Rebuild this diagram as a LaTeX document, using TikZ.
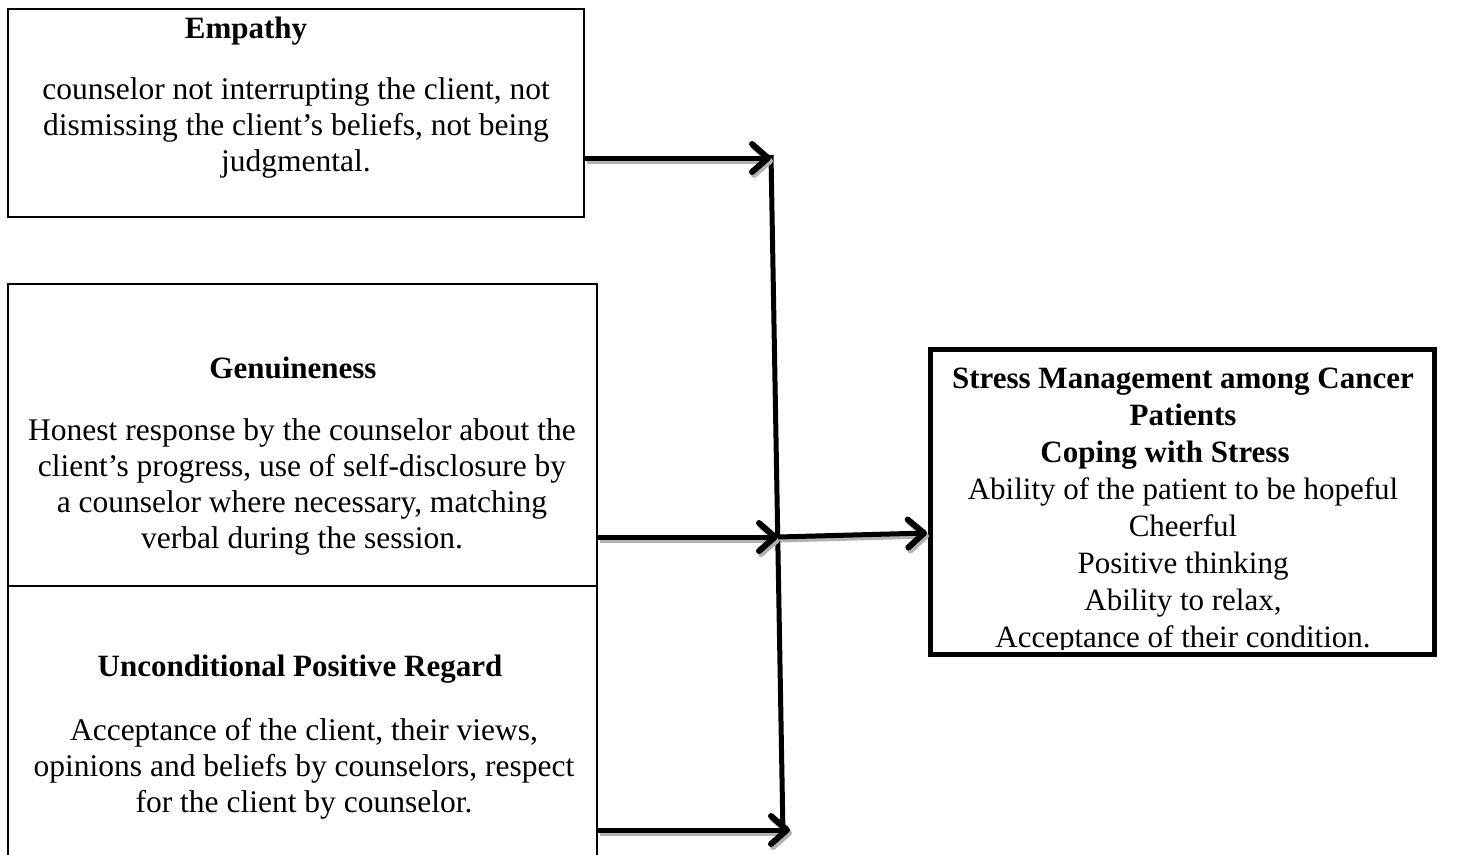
\documentclass[tikz,border=0pt]{standalone}
\usepackage{fontspec}
\setmainfont{Liberation Serif}
\usetikzlibrary{arrows.meta}
\begin{document}
\begin{tikzpicture}[x=1pt,y=-1pt,
  txt/.style={align=center,font=\fontsize{31.5}{36}\selectfont,inner sep=0pt},
  stxt/.style={align=center,font=\fontsize{31}{37}\selectfont,inner sep=0pt},
  ttl/.style={font=\fontsize{31}{36}\selectfont\bfseries,inner sep=0pt},
  thinbox/.style={draw=black,line width=2pt,inner sep=0pt},
  thickbox/.style={draw=black,line width=5pt,inner sep=0pt},
  conn/.style={line width=5pt,-{Straight Barb[length=16pt,width=28pt,line width=6pt,round]},
    preaction={draw=gray!60,line width=5pt,transform canvas={shift={(2pt,-3pt)}}}}]
\useasboundingbox (0,0) rectangle (1464,854);
\clip (0,0) rectangle (1464,854);
\fill[white] (0,0) rectangle (1464,854);
% boxes
\node[thinbox,minimum width=576pt,minimum height=208pt] (e) at (296,113) {};
\node[thinbox,minimum width=589pt,minimum height=302pt] (g) at (302.5,435) {};
\node[thinbox,minimum width=589pt,minimum height=280pt] (u) at (302.5,726) {};
\node[thickbox,minimum width=504pt,minimum height=305pt] (s) at (1182.5,502) {};
% texts
\node[ttl] (et) at (246,31) {Empathy};
\node[txt] (eb) at (296,128) {counselor not interrupting the client, not\\dismissing the client’s beliefs, not being\\judgmental.};
\node[ttl] (gt) at (293,368) {Genuineness};
\node[txt] (gb) at (302,487) {Honest response by the counselor about the\\client’s progress, use of self-disclosure by\\a counselor where necessary, matching\\verbal during the session.};
\node[ttl] (ut) at (300,669) {Unconditional Positive Regard};
\node[txt] (ub) at (304,769) {Acceptance of the client, their views,\\opinions and beliefs by counselors, respect\\for the client by counselor.};
\begin{scope}
\clip ([shift={(4,4)}]s.north west) rectangle ([shift={(-4,-8)}]s.south east);
\node[stxt] (sb) at (1183,511) {\textbf{Stress Management among Cancer}\\\textbf{Patients}\\\hspace*{-36pt}\textbf{Coping with Stress}\\Ability of the patient to be hopeful\\Cheerful\\Positive thinking\\Ability to relax,\\Acceptance of their condition.};
\end{scope}
% connectors
\coordinate (j1) at (771,158);
\coordinate (j2) at (778,537);
\coordinate (j3) at (790,830);
\coordinate (vt) at (771,155);
\coordinate (vb) at (783,835);
\coordinate (sin) at (927,533);
\draw[line width=5pt] (vt) -- (vb);
\draw[conn] (e.east |- j1) -- (j1);
\draw[conn] (g.east |- j2) -- (j2);
\draw[conn] (j2) -- (sin);
\draw[conn] (u.east |- j3) -- (j3);
\end{tikzpicture}
\end{document}
